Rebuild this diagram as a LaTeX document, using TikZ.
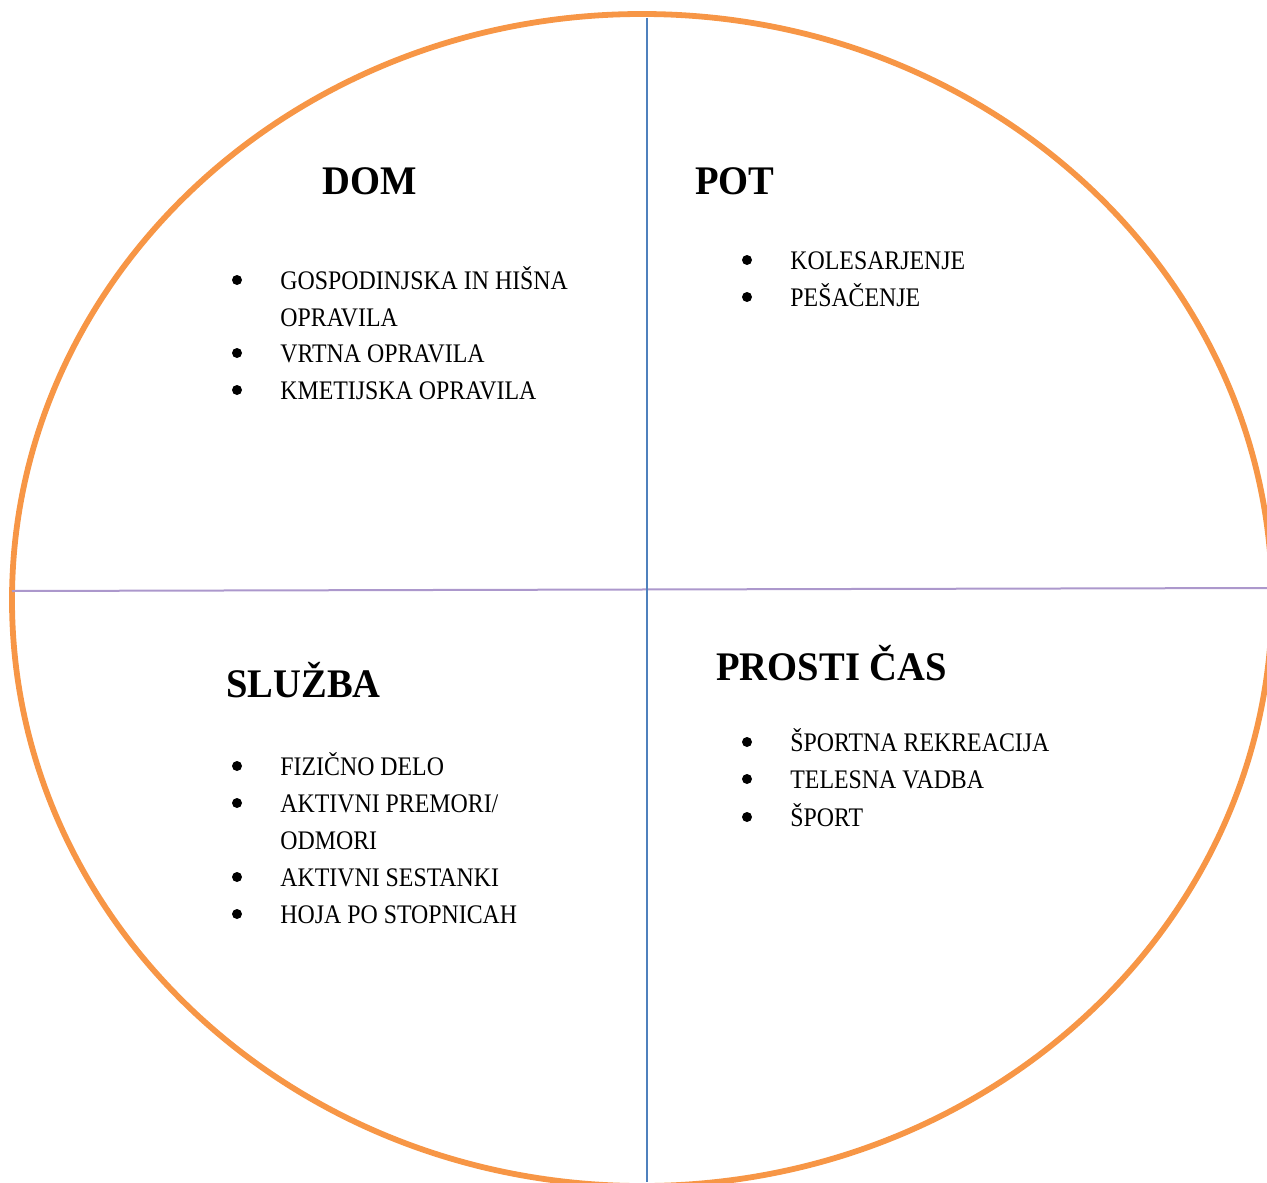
\documentclass[tikz,border=0pt]{standalone}
\usepackage{fontspec}
\setmainfont{Liberation Serif}
\newfontfamily\itemfont[FakeStretch=0.89]{Liberation Serif}
\newfontfamily\headfont[FakeStretch=0.95]{Liberation Serif}
\definecolor{ringorange}{HTML}{F79646}
\definecolor{vblue}{HTML}{4F81BD}
\definecolor{hpurple}{HTML}{AC98CC}
\begin{document}
\begin{tikzpicture}[x=0.5pt,y=-0.5pt,
  heading/.style={font=\headfont\fontsize{20.3pt}{24pt}\selectfont\bfseries, anchor=base west, inner sep=0pt},
  item/.style={font=\itemfont\fontsize{13.4pt}{16pt}\selectfont, anchor=base west, inner sep=0pt},
  bul/.style={circle, fill=black, inner sep=0pt, minimum size=5pt},
  ring/.style={draw=ringorange, line width=2.9pt},
  vline/.style={draw=vblue, line width=1pt},
  hline/.style={draw=hpurple, line width=1pt}]
\useasboundingbox (0,0) rectangle (1267,1182);

% outer ring
\coordinate (c) at (642,600);
\draw[ring] (c) ellipse [x radius=315pt, y radius=293pt];

% dividing lines
\coordinate (vtop) at (647,18);
\coordinate (vbot) at (647,1182);
\coordinate (hleft) at (12,591);
\coordinate (hright) at (1267,588);
\draw[hline] (hleft) -- (hright);
\draw[vline] (vtop) -- (vbot);

% DOM
\node[heading] (dom) at (322,195) {DOM};
\node[bul] (b1) at (237,280) {};
\node[item] (t1) at (280,289) {GOSPODINJSKA IN HIŠNA};
\node[item] (t1b) at (280,326) {OPRAVILA};
\node[bul] (b2) at (237,353) {};
\node[item] (t2) at (280,362) {VRTNA OPRAVILA};
\node[bul] (b3) at (237,390) {};
\node[item] (t3) at (280,399) {KMETIJSKA OPRAVILA};

% POT
\node[heading] (pot) at (695,195) {POT};
\node[bul] (b4) at (747,260) {};
\node[item] (t4) at (790,269) {KOLESARJENJE};
\node[bul] (b5) at (747,297) {};
\node[item] (t5) at (790,306) {PEŠAČENJE};

% SLUZBA
\node[heading] (sluzba) at (226,697) {SLUŽBA};
\node[bul] (b6) at (237,766) {};
\node[item] (t6) at (280,775) {FIZIČNO DELO};
\node[bul] (b7) at (237,803) {};
\node[item] (t7) at (280,812) {AKTIVNI PREMORI/};
\node[item] (t7b) at (280,849) {ODMORI};
\node[bul] (b8) at (237,877) {};
\node[item] (t8) at (280,886) {AKTIVNI SESTANKI};
\node[bul] (b9) at (237,914) {};
\node[item] (t9) at (280,923) {HOJA PO STOPNICAH};

% PROSTI CAS
\node[heading] (prosti) at (716,680) {PROSTI ČAS};
\node[bul] (b10) at (747,742) {};
\node[item] (t10) at (790,751) {ŠPORTNA REKREACIJA};
\node[bul] (b11) at (747,779) {};
\node[item] (t11) at (790,788) {TELESNA VADBA};
\node[bul] (b12) at (747,817) {};
\node[item] (t12) at (790,826) {ŠPORT};
\end{tikzpicture}
\end{document}
